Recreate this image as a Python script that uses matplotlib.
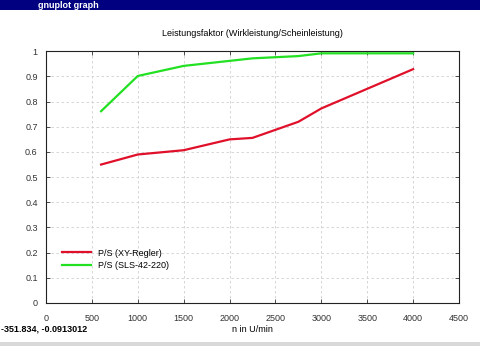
import matplotlib
matplotlib.use('Agg')
import matplotlib.pyplot as plt
from matplotlib.patches import Rectangle

plt.rcParams['font.family'] = ['Liberation Sans', 'DejaVu Sans']

n = [600, 1000, 1500, 2000, 2250, 2750, 3000, 4000]
ps_xy = [0.55, 0.59, 0.607, 0.65, 0.656, 0.72, 0.773, 0.929]
ps_sls = [0.762, 0.902, 0.942, 0.962, 0.972, 0.981, 0.992, 0.992]

xticks = [0, 500, 1000, 1500, 2000, 2500, 3000, 3500, 4000, 4500]
yticks = [0, 0.1, 0.2, 0.3, 0.4, 0.5, 0.6, 0.7, 0.8, 0.9, 1]
ytick_labels = ['0', '0.1', '0.2', '0.3', '0.4', '0.5', '0.6', '0.7', '0.8', '0.9', '1']

fig = plt.figure(figsize=(4.8, 3.46), dpi=100)
fig.patch.set_facecolor('white')

# window decoration (title bar and status strip)
fig.patches.append(Rectangle((0, 1 - 10/346), 1, 10/346, transform=fig.transFigure,
                             facecolor='#000080', edgecolor='none', zorder=0))
fig.text(38/480, 1 - 5/346, 'gnuplot graph', color='white', fontsize=6.5,
         fontweight='bold', va='center', ha='left')
fig.patches.append(Rectangle((0, 0), 1, 4/346, transform=fig.transFigure,
                             facecolor='#d8d8d8', edgecolor='none', zorder=0))
fig.text(1/480, 1 - 329/346, '-351.834, -0.0913012', fontsize=6.5,
         fontweight='bold', va='center', ha='left')

ax = fig.add_axes([46/480, 43/346, 413/480, 251.7/346])
ax.plot(n, ps_xy, color='#e0102a', lw=1.6, label='P/S (XY-Regler)')
ax.plot(n, ps_sls, color='#22e022', lw=1.6, label='P/S (SLS-42-220)')

ax.set_xlim(0, 4500)
ax.set_ylim(0, 1)
ax.set_xticks(xticks)
ax.set_yticks(yticks)
ax.set_yticklabels(ytick_labels)
ax.tick_params(labelsize=6.5, colors='#333333', length=3, width=0.6, direction='in',
               top=True, right=True, pad=8)
ax.tick_params(axis='y', pad=6)
ax.grid(True, color='#d0d0d0', ls=(0, (3, 3)), lw=0.6)
for s in ax.spines.values():
    s.set_linewidth(0.8)
    s.set_color('#222222')

ax.set_title('Leistungsfaktor (Wirkleistung/Scheinleistung)', fontsize=6.5, pad=11)
ax.set_xlabel('n in U/min', fontsize=6.5, labelpad=1)

ax.legend(loc='lower left', bbox_to_anchor=(0.018, 0.1), frameon=False, fontsize=6.5,
          handlelength=3.3, handletextpad=0.7, labelspacing=0.35)

plt.savefig('out.png', dpi=100)
